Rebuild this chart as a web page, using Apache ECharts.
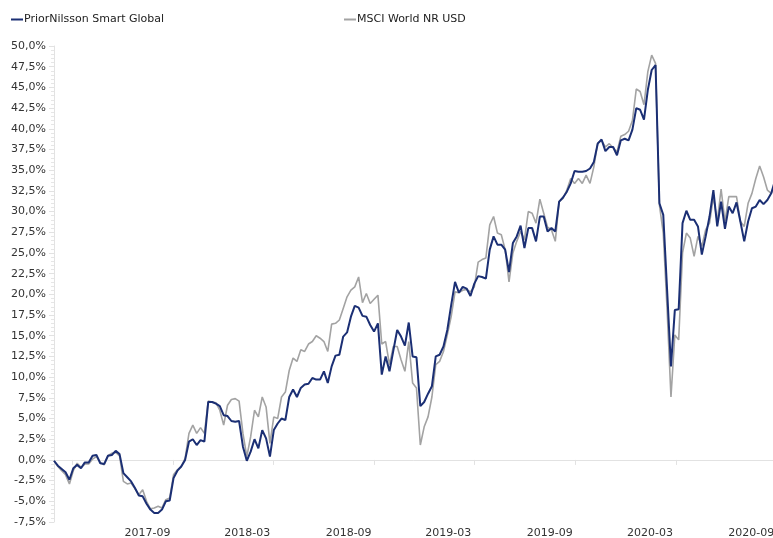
<!DOCTYPE html>
<html>
<head>
<meta charset="utf-8">
<title>PriorNilsson Smart Global vs MSCI World NR USD</title>
<script src="https://cdn.jsdelivr.net/npm/echarts@6/dist/echarts.min.js"></script>
<style>
  html, body { margin: 0; padding: 0; background: #fff; }
  #chart { width: 773px; height: 538px; }
</style>
</head>
<body>
<div id="chart"></div>
<script>
// weekly observations, first one on 2017-01-27
const startDate = [2017, 0, 27]
const pointCount = 188

// cumulative return, %
const priorNilsson = [
  -0.1, -0.7, -1.1, -1.5, -2.4, -1.0, -0.6, -1.0, -0.3, -0.3,
  0.5, 0.6, -0.4, -0.5, 0.5, 0.6, 1.1, 0.7, -1.6, -2.1,
  -2.6, -3.4, -4.3, -4.4, -5.3, -6.0, -6.4, -6.4, -6.0, -5.0,
  -4.9, -2.2, -1.3, -0.8, 0.0, 2.2, 2.5, 1.8, 2.4, 2.2,
  7.0, 7.0, 6.8, 6.5, 5.4, 5.3, 4.7, 4.6, 4.7, 1.6,
  -0.1, 1.0, 2.5, 1.4, 3.6, 2.6, 0.4, 3.6, 4.4, 5.0,
  4.8, 7.6, 8.5, 7.6, 8.7, 9.1, 9.2, 9.9, 9.7, 9.7,
  10.7, 9.3, 11.3, 12.6, 12.7, 14.9, 15.4, 17.3, 18.6, 18.4,
  17.4, 17.3, 16.3, 15.5, 16.5, 10.3, 12.5, 10.7, 13.2, 15.7,
  14.9, 13.8, 16.6, 12.5, 12.4, 6.5, 7.0, 8.0, 8.9, 12.5,
  12.7, 13.7, 15.7, 18.7, 21.5, 20.2, 20.9, 20.7, 19.8, 21.3,
  22.2, 22.1, 21.9, 25.4, 27.0, 26.0, 26.0, 25.4, 22.7, 26.2,
  27.0, 28.3, 25.6, 28.0, 28.0, 26.4, 29.4, 29.4, 27.6, 28.0,
  27.6, 31.2, 31.7, 32.4, 33.4, 34.9, 34.8, 34.8, 34.9, 35.2,
  36.0, 38.2, 38.7, 37.3, 37.8, 37.8, 36.8, 38.6, 38.8, 38.6,
  39.9, 42.5, 42.3, 41.1, 44.7, 47.1, 47.7, 31.0, 29.6, 20.5,
  11.3, 18.1, 18.2, 28.6, 30.1, 29.0, 29.0, 28.2, 24.8, 27.0,
  29.4, 32.6, 28.2, 31.2, 27.9, 30.6, 29.8, 31.1, 28.8, 26.4,
  28.8, 30.4, 30.6, 31.4, 30.9, 31.4, 32.2, 33.8
]

const msciWorld = [
  -0.1, -0.8, -1.3, -1.8, -2.9, -1.3, -0.4, -0.9, -0.5, -0.5,
  0.1, 0.4, -0.3, -0.6, 0.5, 0.8, 0.9, 0.5, -2.6, -2.9,
  -2.8, -3.5, -4.2, -3.6, -5.0, -5.9, -5.8, -5.6, -5.8, -4.8,
  -4.6, -1.8, -1.2, -0.8, 0.2, 3.2, 4.2, 3.2, 3.9, 3.2,
  7.1, 7.0, 6.9, 6.0, 4.2, 6.6, 7.3, 7.4, 7.1, 3.2,
  0.4, 2.8, 6.0, 5.2, 7.6, 6.4, 2.0, 5.2, 5.0, 7.6,
  8.2, 10.8, 12.3, 11.9, 13.3, 13.1, 14.0, 14.3, 15.0, 14.7,
  14.3, 13.1, 16.4, 16.5, 16.9, 18.3, 19.7, 20.5, 20.9, 22.1,
  19.0, 20.1, 18.9, 19.4, 19.9, 14.0, 14.3, 11.5, 13.7, 13.7,
  12.1, 10.7, 14.3, 9.3, 8.7, 1.8, 4.0, 5.2, 7.6, 11.5,
  11.9, 13.1, 15.1, 17.3, 20.3, 20.2, 20.5, 20.6, 20.3, 20.9,
  23.9, 24.2, 24.4, 28.4, 29.4, 27.4, 27.2, 25.4, 21.5, 25.0,
  26.4, 27.6, 26.6, 30.0, 29.8, 28.6, 31.5, 29.8, 28.1, 27.8,
  26.4, 31.2, 31.6, 32.6, 34.0, 33.4, 34.0, 33.4, 34.4, 33.4,
  35.4, 38.3, 38.6, 37.8, 38.2, 37.7, 37.2, 39.1, 39.3, 39.7,
  41.0, 44.8, 44.5, 42.9, 46.9, 48.9, 47.9, 30.8, 27.4, 18.1,
  7.6, 15.1, 14.5, 25.0, 27.4, 26.8, 24.6, 27.0, 25.8, 27.8,
  28.6, 31.8, 28.8, 32.7, 28.8, 31.8, 31.8, 31.8, 28.8, 28.2,
  31.0, 32.2, 34.0, 35.5, 34.2, 32.6, 32.2, 33.4
]

// half-year marks on the date axis
const tickMonths = ['2017-03', '2017-09', '2018-03', '2018-09', '2019-03', '2019-09', '2020-03', '2020-09']
const labelMonths = ['2017-09', '2018-03', '2018-09', '2019-03', '2019-09', '2020-03', '2020-09']

const monthStart = (s) => {
  const [y, m] = s.split('-').map(Number)
  return new Date(y, m - 1, 1).getTime()
}

const dates = []
for (let i = 0; i < pointCount; i++) {
  dates.push(new Date(startDate[0], startDate[1], startDate[2] + i * 7).getTime())
}

const pad = (n) => (n < 10 ? '0' + n : '' + n)
const fmtMonth = (v) => {
  const d = new Date(v)
  return d.getFullYear() + '-' + pad(d.getMonth() + 1)
}
const fmtPct = (v) => v.toFixed(1).replace('.', ',') + '%'

const chart = echarts.init(document.getElementById('chart'))
const font = 'DejaVu Sans, Verdana, sans-serif'

const option = {
  animation: false,
  textStyle: { fontFamily: font },
  legend: [
    {
      data: ['PriorNilsson Smart Global'],
      left: 6,
      top: 9,
      icon: 'rect',
      itemWidth: 12,
      itemHeight: 2,
      textStyle: { fontFamily: font, fontSize: 11, color: '#222', padding: [0, 0, 0, -4] },
    },
    {
      data: ['MSCI World NR USD'],
      left: 339,
      top: 9,
      icon: 'rect',
      itemWidth: 12,
      itemHeight: 2,
      textStyle: { fontFamily: font, fontSize: 11, color: '#222', padding: [0, 0, 0, -4] },
    },
  ],
  grid: {
    left: 54,
    right: -12,
    top: 46,
    bottom: 16,
    outerBoundsMode: 'none',
  },
  xAxis: {
    // dates as epoch milliseconds on a plain value scale
    type: 'value',
    min: new Date(startDate[0], startDate[1], startDate[2]).getTime(),
    max: new Date(2020, 8, 15).getTime(),
    splitLine: { show: false },
    axisLine: { lineStyle: { color: '#e2e2e2', width: 1 } },
    axisTick: {
      show: true,
      length: 5,
      customValues: tickMonths.map(monthStart),
      lineStyle: { color: '#e2e2e2' },
    },
    axisLabel: {
      customValues: labelMonths.map(monthStart),
      formatter: (v) => fmtMonth(v),
      align: 'right',
      margin: 6,
      padding: [0, 3, 0, 0],
      fontSize: 11,
      fontFamily: font,
      color: '#333',
      showMinLabel: true,
      showMaxLabel: true,
      hideOverlap: false,
    },
  },
  yAxis: {
    type: 'value',
    min: -7.5,
    max: 50,
    interval: 2.5,
    splitLine: { show: false },
    axisLine: { show: true, lineStyle: { color: '#e2e2e2' } },
    axisTick: { show: true, length: 5, lineStyle: { color: '#e2e2e2' } },
    minorTick: { show: true, splitNumber: 5, length: 3, lineStyle: { color: '#e6e6e6' } },
    axisLabel: {
      formatter: fmtPct,
      margin: 8,
      fontSize: 11,
      fontFamily: font,
      color: '#333',
    },
  },
  series: [
    {
      name: 'PriorNilsson Smart Global',
      type: 'line',
      z: 3,
      showSymbol: false,
      lineStyle: { width: 2, color: '#1b2f74' },
      itemStyle: { color: '#1b2f74' },
      data: dates.map((d, i) => [d, priorNilsson[i]]),
    },
    {
      name: 'MSCI World NR USD',
      type: 'line',
      z: 2,
      showSymbol: false,
      lineStyle: { width: 1.6, color: '#a3a3a3' },
      itemStyle: { color: '#a3a3a3' },
      data: dates.map((d, i) => [d, msciWorld[i]]),
    },
  ],
}

chart.setOption(option)
window.addEventListener('resize', () => chart.resize())
</script>
</body>
</html>
